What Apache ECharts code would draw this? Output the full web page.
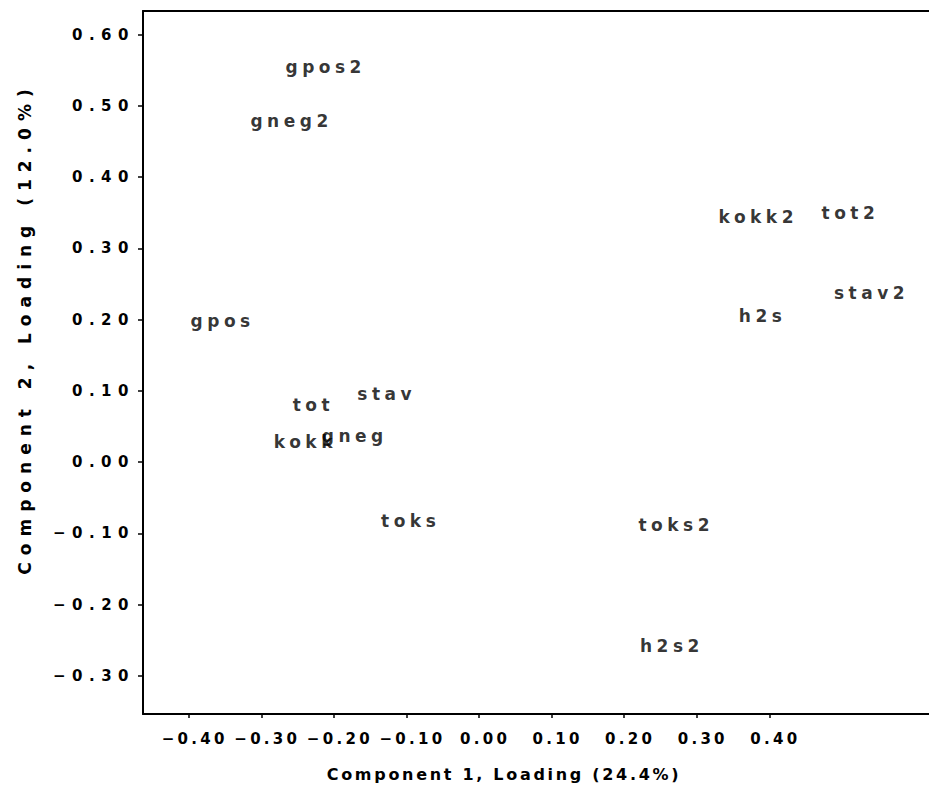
<!DOCTYPE html>
<html><head><meta charset="utf-8">
<script src="https://cdn.jsdelivr.net/npm/echarts@6/dist/echarts.min.js"></script>
<style>html,body{margin:0;padding:0;background:#fff}#c{width:929px;height:787px}</style>
</head><body><div id="c"></div>
<script>
const names = ['gpos2','gneg2','kokk2','tot2','stav2','h2s','gpos','stav','tot','gneg','kokk','toks','toks2','h2s2'];
const comp1 = [-0.214,-0.261,0.382,0.509,0.538,0.388,-0.356,-0.130,-0.231,-0.174,-0.242,-0.097,0.269,0.263];
const comp2 = [0.555,0.479,0.344,0.350,0.237,0.205,0.198,0.096,0.080,0.036,0.028,-0.083,-0.089,-0.258];
const xTicks = [-0.4,-0.3,-0.2,-0.1,0,0.1,0.2,0.3,0.4];
const yTicks = [-0.3,-0.2,-0.1,0,0.1,0.2,0.3,0.4,0.5,0.6];
const xTitle = 'Component 1, Loading (24.4%)';
const yTitle = 'Component 2, Loading (12.0%)';
const FONT = 'DejaVu Sans';

function fmt(v){ const r = Math.round(v*100)/100; return (r < 0 ? '\u2212' : '') + Math.abs(r).toFixed(2); }

const chart = echarts.init(document.getElementById('c'), null, {renderer: 'svg'});
const line = {show: true, onZero: false, lineStyle: {color: '#000', width: 2}};
chart.setOption({
  animation: false,
  backgroundColor: '#fff',
  grid: {left: 143, right: 0, top: 11, bottom: 70, containLabel: false},
  xAxis: [{
    type: 'value', min: -0.463, max: 0.620, position: 'bottom',
    axisLine: line,
    axisTick: {show: true, customValues: xTicks, length: 4, lineStyle: {color: '#000', width: 1.5}},
    axisLabel: {customValues: xTicks, formatter: fmt, color: '#000', fontFamily: FONT, fontWeight: 'bold', fontSize: 15, margin: 17, padding: [0,0,0,12]},
    splitLine: {show: false},
    name: xTitle, nameLocation: 'middle', nameGap: 52,
    nameTextStyle: {color: '#000', fontFamily: FONT, fontWeight: 'bold', fontSize: 16, padding: [0,64,0,0]}
  }, {
    type: 'value', min: -0.463, max: 0.620, position: 'top',
    axisLine: line, axisTick: {show: false}, axisLabel: {show: false}, splitLine: {show: false}
  }],
  yAxis: {
    type: 'value', min: -0.3536, max: 0.633,
    axisLine: line,
    axisTick: {show: true, customValues: yTicks, length: 5, lineStyle: {color: '#000', width: 1.5}},
    axisLabel: {customValues: yTicks, formatter: fmt, color: '#000', fontFamily: FONT, fontWeight: 'bold', fontSize: 15, margin: 8, padding: [0,0,5,0]},
    splitLine: {show: false},
    name: yTitle, nameLocation: 'middle', nameGap: 110,
    nameTextStyle: {color: '#000', fontFamily: FONT, fontWeight: 'bold', fontSize: 17, padding: [0,0,0,68]}
  },
  series: [{
    type: 'scatter',
    data: comp1.map((x, i) => [x, comp2[i]]),
    symbolSize: 1,
    itemStyle: {color: 'rgba(0,0,0,0)'},
    label: {show: true, position: 'inside', offset: [2, 0], formatter: p => names[p.dataIndex],
            color: '#000', fontFamily: FONT, fontWeight: 'bold', fontSize: 17},
    emphasis: {disabled: true}
  }]
});

function spaceTexts(){
  document.querySelectorAll('#c svg text').forEach(t => {
    const s = t.textContent;
    const anchor = t.getAttribute('text-anchor') || getComputedStyle(t).textAnchor;
    let ls;
    if (names.includes(s)) ls = 4.5;
    else if (s === xTitle) ls = 2.7;
    else if (s === yTitle) ls = 7;
    else if (anchor === 'end') ls = 6.5;
    else ls = 3.3;
    t.style.letterSpacing = ls + 'px';
  });
}
spaceTexts();
chart.on('finished', spaceTexts);
setTimeout(spaceTexts, 50);
</script>
</body></html>
